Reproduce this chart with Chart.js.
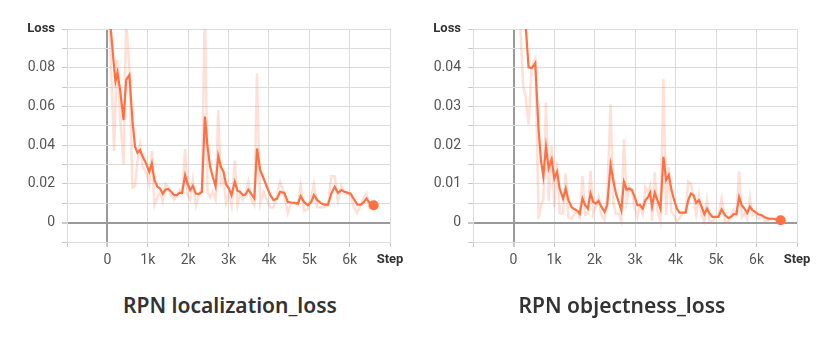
<!DOCTYPE html>
<html>
<head>
<meta charset="utf-8">
<script src="https://cdn.jsdelivr.net/npm/chart.js@4.4.1/dist/chart.umd.min.js"></script>
<style>
  body { margin: 0; background: #fff; width: 830px; height: 338px; position: relative; overflow: hidden; font-family: "Noto Sans", sans-serif; }
  canvas { position: absolute; top: 0; }
  #locCanvas { left: 0; }
  #objCanvas { left: 406px; }
  .title { position: absolute; top: 295px; width: 400px; text-align: center; font-size: 21px; line-height: 21px; font-weight: 600; color: #333; }
</style>
</head>
<body>
<canvas id="locCanvas" width="410" height="280"></canvas>
<canvas id="objCanvas" width="411" height="280"></canvas>
<div class="title" style="left:30px">RPN localization_loss</div>
<div class="title" style="left:422px">RPN objectness_loss</div>
<script>
// --- data (step, smoothed value, raw value) ---
const locSteps = [40, 165, 200, 250, 315, 400, 465, 545, 620, 685, 745, 810, 875, 960, 1035, 1100, 1165, 1240, 1305, 1370,
  1440, 1510, 1580, 1655, 1720, 1785, 1850, 1925, 1985, 2050, 2115, 2190, 2265, 2340, 2415, 2480, 2545, 2610, 2680, 2745,
  2810, 2875, 2940, 3010, 3075, 3155, 3225, 3290, 3355, 3420, 3490, 3560, 3640, 3705, 3785, 3870, 3950, 4035, 4115, 4200,
  4280, 4380, 4470, 4555, 4635, 4720, 4785, 4870, 4965, 5050, 5115, 5200, 5280, 5365, 5465, 5545, 5630, 5710, 5795, 5875,
  5960, 6025, 6105, 6190, 6275, 6355, 6415, 6495, 6595];
const locSmoothed = [0.110, 0.0807, 0.073, 0.0775, 0.0686, 0.053, 0.0737, 0.0763, 0.053, 0.0392, 0.0361, 0.0375, 0.034, 0.0306, 0.0263, 0.0306, 0.0219, 0.0185, 0.0176, 0.015,
  0.0171, 0.0174, 0.0159, 0.0142, 0.0142, 0.0154, 0.0154, 0.0245, 0.0202, 0.0168, 0.019, 0.015, 0.0147, 0.0159, 0.0548, 0.0392, 0.0288, 0.0237, 0.0188, 0.0344,
  0.0288, 0.0263, 0.0197, 0.0176, 0.0142, 0.0211, 0.0164, 0.0159, 0.0142, 0.0145, 0.017, 0.015, 0.0125, 0.0383, 0.0271, 0.0228, 0.0185, 0.0142, 0.0116, 0.0124,
  0.0159, 0.0154, 0.0107, 0.0104, 0.0102, 0.0098, 0.0136, 0.0107, 0.009, 0.0107, 0.0142, 0.0116, 0.0102, 0.0093, 0.0093, 0.015, 0.0185, 0.0154, 0.0168, 0.0159,
  0.0154, 0.015, 0.0121, 0.0093, 0.0093, 0.0107, 0.0124, 0.0102, 0.009];
const locRaw = [0.110, 0.037, 0.061, 0.084, 0.055, 0.030, 0.105, 0.080, 0.018, 0.019, 0.032, 0.040, 0.029, 0.026, 0.020, 0.037, 0.009, 0.013, 0.016, 0.011,
  0.020, 0.018, 0.014, 0.012, 0.014, 0.017, 0.015, 0.038, 0.014, 0.012, 0.022, 0.009, 0.014, 0.018, 0.113, 0.016, 0.013, 0.016, 0.012, 0.058,
  0.020, 0.023, 0.010, 0.015, 0.009, 0.032, 0.009, 0.015, 0.012, 0.015, 0.021, 0.012, 0.009, 0.077, 0.010, 0.016, 0.012, 0.008, 0.008, 0.014,
  0.021, 0.015, 0.005, 0.010, 0.010, 0.009, 0.019, 0.006, 0.007, 0.013, 0.020, 0.008, 0.008, 0.008, 0.009, 0.024, 0.024, 0.011, 0.019, 0.015,
  0.015, 0.014, 0.008, 0.005, 0.009, 0.013, 0.015, 0.007, 0.007];

const objSteps = [20, 100, 170, 240, 306, 372, 446, 496, 537, 620, 678, 736, 802, 868, 942, 1008, 1074, 1140, 1223, 1289,
  1355, 1438, 1521, 1587, 1636, 1702, 1769, 1835, 1901, 1967, 2033, 2099, 2165, 2248, 2314, 2397, 2463, 2529, 2595, 2661,
  2727, 2793, 2860, 2926, 2992, 3058, 3124, 3190, 3256, 3322, 3372, 3421, 3488, 3554, 3628, 3702, 3769, 3835, 3901, 3967,
  4033, 4099, 4182, 4248, 4314, 4380, 4446, 4512, 4579, 4645, 4711, 4777, 4843, 4909, 4992, 5058, 5140, 5223, 5306, 5372,
  5438, 5504, 5570, 5636, 5702, 5769, 5835, 5901, 5967, 6050, 6132, 6215, 6314, 6421, 6504, 6595];
const objSmoothed = [0.13, 0.10, 0.08, 0.062, 0.05, 0.0401, 0.0399, 0.0405, 0.0412, 0.0239, 0.0161, 0.012, 0.0196, 0.014, 0.0163, 0.0114, 0.0131, 0.0088, 0.0062, 0.0088,
  0.0058, 0.0039, 0.0034, 0.003, 0.0023, 0.0062, 0.0045, 0.0036, 0.0075, 0.0054, 0.0049, 0.0056, 0.0042, 0.0028, 0.0045, 0.0149, 0.011, 0.0075, 0.0054, 0.0032,
  0.0105, 0.0085, 0.0088, 0.0084, 0.0066, 0.0045, 0.0045, 0.0036, 0.0058, 0.0066, 0.0077, 0.0042, 0.0077, 0.0058, 0.0036, 0.017, 0.011, 0.0123, 0.0084, 0.0058,
  0.0036, 0.0026, 0.0026, 0.0026, 0.0058, 0.0075, 0.0071, 0.0051, 0.0058, 0.0041, 0.0022, 0.0036, 0.0023, 0.0015, 0.0015, 0.0015, 0.0034, 0.0019, 0.0012, 0.0015,
  0.0022, 0.0022, 0.0066, 0.0045, 0.0036, 0.0025, 0.0041, 0.0032, 0.0028, 0.0021, 0.0019, 0.0013, 0.001, 0.001, 0.0008, 0.0006];
const objRaw = [0.13, 0.055, 0.05, 0.035, 0.032, 0.0253, 0.0396, 0.0414, 0.0423, 0.001, 0.0044, 0.0059, 0.031, 0.0056, 0.0198, 0.004, 0.0157, 0.0024, 0.0023, 0.0127,
  0.0013, 0.001, 0.0027, 0.0024, 0.0013, 0.012, 0.002, 0.0023, 0.0134, 0.0023, 0.0042, 0.0067, 0.0021, 0.0007, 0.007, 0.0305, 0.0052, 0.0023, 0.0023, 0.0005,
  0.0215, 0.0055, 0.0093, 0.0078, 0.0039, 0.0014, 0.0045, 0.0023, 0.0091, 0.0078, 0.0094, 0.0005, 0.013, 0.003, 0.0003, 0.0371, 0.002, 0.0143, 0.0026, 0.0019,
  0.0003, 0.0011, 0.0026, 0.0026, 0.0106, 0.01, 0.0065, 0.0021, 0.0069, 0.0016, 0.0003, 0.0057, 0.0004, 0.0003, 0.0015, 0.0015, 0.0063, 0.0003, 0.0002, 0.002,
  0.0033, 0.0022, 0.0132, 0.0014, 0.0023, 0.0009, 0.0065, 0.0019, 0.0022, 0.001, 0.0016, 0.0004, 0.0006, 0.001, 0.0005, 0.0003];

const SMOOTH_COLOR = '#ff7043';
const RAW_COLOR = 'rgba(255, 112, 67, 0.22)';
const GRID_COLOR = '#dcdcdc';
const ZERO_COLOR = '#9a9a9a';

function toPoints(xs, ys) {
    return xs.map((x, i) => ({ x: x, y: ys[i] }));
}

function stepLabel(value) {
    if (value === 7000) return 'Step';
    if (value === -1000) return '';
    if (value === 0) return '0';
    return (value / 1000) + 'k';
}

function makeChart(canvasId, steps, smoothed, raw, yMin, yMax, yStep, labelEvery) {
    const ctx = document.getElementById(canvasId).getContext('2d');
    const last = steps.length - 1;
    return new Chart(ctx, {
        type: 'line',
        data: {
            datasets: [
                {
                    data: toPoints(steps, smoothed),
                    borderColor: SMOOTH_COLOR,
                    backgroundColor: SMOOTH_COLOR,
                    borderWidth: 2.2,
                    tension: 0,
                    pointRadius: (c) => c.dataIndex === last ? 5 : 0,
                    pointBorderWidth: 0,
                    pointBackgroundColor: SMOOTH_COLOR
                },
                {
                    data: toPoints(steps, raw),
                    borderColor: RAW_COLOR,
                    borderWidth: 2.5,
                    tension: 0,
                    pointRadius: 0
                }
            ]
        },
        options: {
            responsive: false,
            animation: false,
            devicePixelRatio: 1,
            layout: { padding: { top: 29, right: 20, bottom: 0, left: 0 } },
            plugins: { legend: { display: false }, tooltip: { enabled: false } },
            scales: {
                x: {
                    type: 'linear',
                    min: -1000,
                    max: 7000,
                    afterFit: (s) => { s.height = 38; },
                    border: { color: GRID_COLOR },
                    grid: {
                        color: (c) => c.tick && c.tick.value === 0 ? ZERO_COLOR : GRID_COLOR,
                        lineWidth: (c) => c.tick && c.tick.value === 0 ? 2 : 1,
                        tickColor: '#c8c8c8',
                        tickLength: 5
                    },
                    ticks: {
                        stepSize: 1000,
                        autoSkip: false,
                        maxRotation: 0,
                        padding: 5,
                        color: (c) => c.tick && c.tick.value === 7000 ? '#333' : '#555',
                        font: (c) => c.tick && c.tick.value === 7000
                            ? { family: 'Roboto', size: 13, weight: 'bold' }
                            : { family: 'Roboto', size: 14 },
                        callback: (v) => stepLabel(v)
                    }
                },
                y: {
                    min: yMin,
                    max: yMax,
                    afterFit: (s) => { s.width = 67; },
                    border: { color: GRID_COLOR },
                    grid: {
                        color: (c) => c.tick && Math.abs(c.tick.value) < 1e-9 ? ZERO_COLOR : GRID_COLOR,
                        lineWidth: (c) => c.tick && Math.abs(c.tick.value) < 1e-9 ? 2 : 1,
                        tickColor: '#c8c8c8',
                        tickLength: 5
                    },
                    ticks: {
                        stepSize: yStep,
                        autoSkip: false,
                        padding: 7,
                        color: (c) => c.tick && Math.abs(c.tick.value - yMax) < 1e-9 ? '#333' : '#555',
                        font: (c) => c.tick && Math.abs(c.tick.value - yMax) < 1e-9
                            ? { family: 'Roboto', size: 13, weight: 'bold' }
                            : { family: 'Roboto', size: 14 },
                        callback: (v) => {
                            if (Math.abs(v - yMax) < 1e-9) return 'Loss';
                            if (v < -1e-9) return '';
                            const n = Math.round(v / yStep);
                            if (n % labelEvery !== 0) return '';
                            if (n === 0) return '0';
                            return v.toFixed(2);
                        }
                    }
                }
            }
        }
    });
}

makeChart('locCanvas', locSteps, locSmoothed, locRaw, -0.01, 0.1, 0.01, 2);
makeChart('objCanvas', objSteps, objSmoothed, objRaw, -0.005, 0.05, 0.005, 2);
</script>
</body>
</html>
